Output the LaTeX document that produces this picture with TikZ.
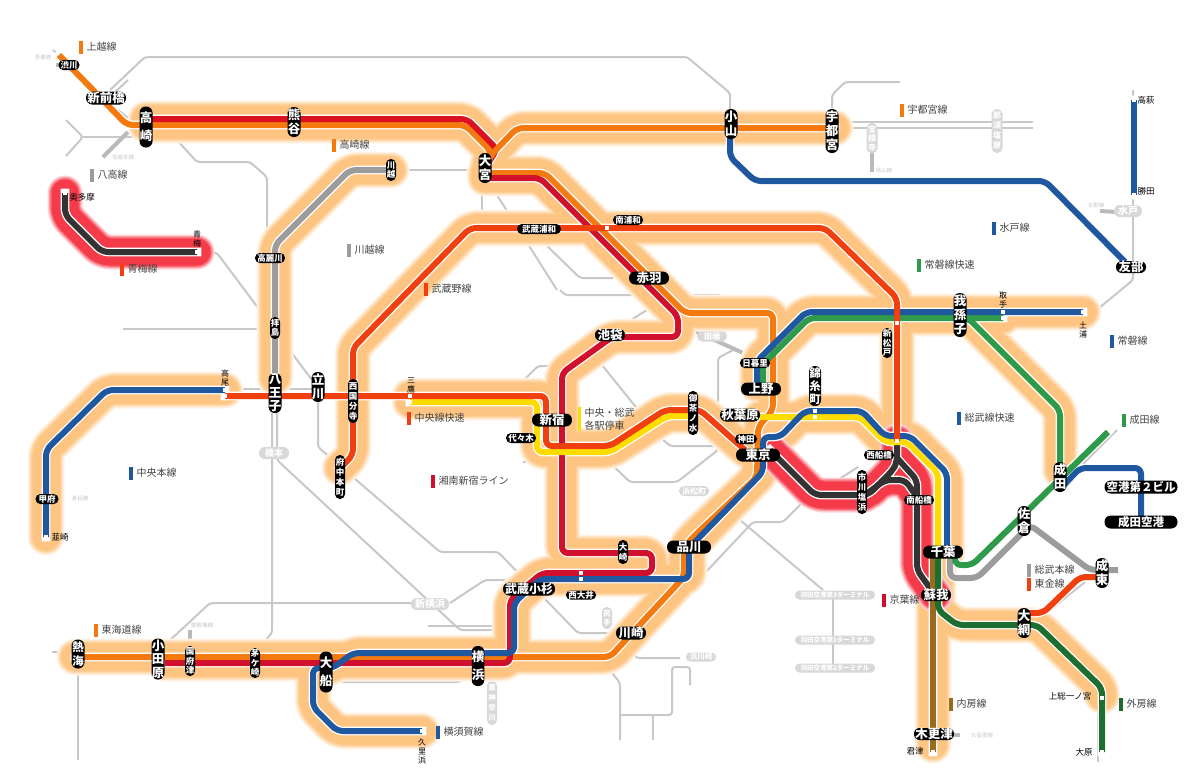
\documentclass[tikz,border=0pt]{standalone}
\usepackage{fontspec}
\setmainfont{Noto Sans CJK JP}
\usetikzlibrary{calc}
\definecolor{cOr}{HTML}{F47A10}
\definecolor{cRd}{HTML}{DC1020}
\definecolor{cCr}{HTML}{D0102C}
\definecolor{cRo}{HTML}{F04010}
\definecolor{cBl}{HTML}{2058A0}
\definecolor{cGn}{HTML}{2E9A4A}
\definecolor{cDg}{HTML}{1E6E32}
\definecolor{cYl}{HTML}{FFDC00}
\definecolor{cGy}{HTML}{9C9C9C}
\definecolor{cBk}{HTML}{333333}
\definecolor{cBr}{HTML}{9A6A20}
\definecolor{cNet}{HTML}{C8C8C8}
\definecolor{cPale}{HTML}{D8D8D8}
\definecolor{cTxt}{HTML}{444444}
\definecolor{hA}{HTML}{FFF4E8}
\definecolor{hB}{HTML}{FEE8CC}
\definecolor{hC}{HTML}{FEDAAE}
\definecolor{hD}{HTML}{FDCE96}
\definecolor{hE}{HTML}{FDC482}
\definecolor{rA}{HTML}{FDD0D4}
\definecolor{rB}{HTML}{FB9CA4}
\definecolor{rC}{HTML}{F86A76}
\definecolor{rD}{HTML}{F53A4A}
\tikzset{
 gl/.style={draw=cNet,line width=2pt,rounded corners=3pt},
 gthick/.style={draw=cGy!70,line width=4pt},
 halo/.style={line cap=round,line join=round,rounded corners=8pt},
 casing/.style={draw=white,line join=round,line cap=rect,rounded corners=6pt,line width=8.6pt},
 rail/.style={line join=round,rounded corners=6pt,line width=6pt},
 pill/.style={fill=black,text=white,inner sep=0pt,align=center},
 palepill/.style={fill=cPale,text=white,inner sep=0pt,align=center},
 dotn/.style={fill=white,minimum size=3.6pt,inner sep=0pt},
 plain/.style={text=black,inner sep=0pt,align=center},
 lgd/.style={text=cTxt,inner sep=0pt,anchor=west,align=left,font=\fontsize{10}{12.5}\selectfont},
 tiny/.style={text=cNet,inner sep=0pt,font=\fontsize{5.5}{6}\selectfont},
}
\newcommand\pill[7]{\node[pill,minimum width=#3pt,minimum height=#4pt,rounded corners={min(#3,#4)*0.48},font=\bfseries\fontsize{#5}{#6}\selectfont] (#1) at (#2) {#7};}
\newcommand\pale[7]{\node[palepill,minimum width=#3pt,minimum height=#4pt,rounded corners={min(#3,#4)*0.48},font=\bfseries\fontsize{#5}{#6}\selectfont] (#1) at (#2) {#7};}
\newcommand\plainst[5]{\node[plain,font=\fontsize{#3}{#4}\selectfont] (#1) at (#2) {#5};}
\newcommand\lgit[4]{\fill[#3] (#2)++(-1.7,-6.5) rectangle ++(3.4,13); \node[lgd] (#1) at ($(#2)+(5.5,0)$) {#4};}
\newcommand\rl[2]{\draw[rail,draw=#1] #2;}
% rail paths
\def\pJoetsu{(59,55)--(127,125)--(146,125)}
\def\pTakO{(146,125)--(465,125)--(491,151)--(487,165)}
\def\pTakR{(146,119)--(467,119)--(497,149)--(487,165)}
\def\pUtsu{(487,165)--(491,155)--(517,128)--(835,128)}
\def\pOrM{(485,173)--(545,173)--(685,313)--(773,313)--(773,410)--(758,427)--(757,477)--(693,537)--(684,548)--(684,577)--(610,657)--(75,657)}
\def\pRdM{(485,178)--(540,178)--(678,316)--(678,337)--(612,337)--(562,373)--(562,553)--(652,553)--(652,573)--(542,573)--(510,600)--(510,663)--(165,663)}
\def\pChuoR{(225,396)--(546,396)--(546,446)--(610,446)--(665,410)--(700,410)--(745,450)}
\def\pChuoH{(410,396)--(546,396)--(546,446)--(610,446)--(665,410)--(700,410)--(745,450)}
\def\pYlA{(410,402)--(537,402)--(537,452)--(610,452)--(667,416)--(693,416)}
\def\pYlB{(760,417)--(860,417)--(885,442)--(907,442)--(938,473)--(938,553)}
\def\pSobu{(422,731)--(337,731)--(313,707)--(313,668)--(333,668)--(353,653)--(514,653)--(514,603)--(540,579)--(689,579)--(689,548)--(763,472)--(763,437)--(780,437)--(805,411)--(862,411)--(885,436)--(910,436)--(947,473)--(947,553)}
\def\pChuoM{(46,537)--(46,450)--(107,390)--(225,390)}
\def\pHachi{(391,170)--(350,170)--(275,245)--(275,378)}
\def\pOme{(65,193)--(65,215)--(102,252)--(197,252)}
\def\pMusa{(340,468)--(353,455)--(353,348)--(470,228)--(825,228)--(897,298)--(897,441)}
\def\pJoB{(1083,312)--(806,312)--(757,361)--(757,385)}
\def\pJoG{(1003,318)--(809,318)--(763,364)--(763,385)}
\def\pNarN{(958,318)--(968,318)--(1060,410)--(1060,470)}
\def\pNarM{(955,553)--(955,565)--(972,565)--(1108,432)}
\def\pSoGy{(950,553)--(950,578)--(977,578)--(1030,525)--(1090,570)--(1118,570)}
\def\pToga{(1024,613)--(1043,613)--(1080,577)--(1100,577)}
\def\pSoto{(938,555)--(938,610)--(957,625)--(1037,625)--(1102,688)--(1102,752)}
\def\pSotoH{(938,555)--(938,610)--(957,625)--(1037,625)--(1102,688)--(1102,696)}
\def\pUchi{(933,555)--(933,752)}
\def\pUchiH{(933,555)--(933,745)}
\def\pKeiA{(770,450)--(815,495)--(868,495)--(893,470)--(897,462)--(897,441)}
\def\pKeiB{(897,458)--(917,480)--(917,570)--(935,595)}
\def\pKeiC{(865,495)--(885,480)--(905,480)--(917,497)}
\def\pMito{(730,125)--(730,157)--(755,181)--(1045,181)--(1125,262)}
\def\pJoN{(1134,100)--(1134,195)}
\def\pAir{(1062,487)--(1080,468)--(1141,468)--(1141,522)}
\def\haloall{\pTakO \pTakR \pUtsu \pOrM \pRdM \pChuoH \pYlA \pYlB \pSobu \pChuoM \pHachi \pMusa \pJoB \pJoG \pNarN \pSotoH \pUchiH}
\def\halored{\pOme \pKeiA \pKeiB \pKeiC}
\def\allrails{\pOme \pKeiA \pKeiB \pKeiC \pHachi \pChuoM \pMito \pJoN \pAir \pSoGy \pNarM \pToga \pUchi \pSoto \pJoetsu \pTakO \pTakR \pUtsu \pNarN \pOrM \pRdM \pYlA \pChuoR \pYlB \pSobu \pJoG \pJoB \pMusa}
\begin{document}
\begin{tikzpicture}[x=1pt,y=-1pt]
\useasboundingbox (0,0) rectangle (1200,782);
\fill[white] (0,0) rectangle (1200,782);
% grey network
\draw[gl] (110,90)--(145,57)--(687,57)--(730,93)--(730,110);
\draw[gl] (832,108)--(832,95)--(845,82)--(900,82);
\draw[gl] (66,120)--(83,137)--(66,156);
\draw[gl] (83,137)--(140,137);
\draw[gl] (128,80)--(112,95);
\draw[gl] (118,110)--(137,125);
\draw[gl] (53,50)--(59,55);
\draw[gthick] (103,157)--(128,132);
\draw[gl] (177,140)--(197,162)--(250,162)--(267,177)--(267,250);
\draw[gl] (210,252)--(217,253)--(312,380);
\draw[gl] (123,329)--(262,329);
\draw[gl] (237,389)--(312,389);
\draw[gl] (272,413)--(272,633)--(263,643);
\draw[gl] (277,413)--(277,460)--(460,630)--(495,630);
\draw[gl] (428,626)--(495,626);
\draw[gl] (318,402)--(318,447)--(440,552)--(498,552)--(530,585);
\draw[gl] (543,597)--(578,633)--(617,633);
\draw[gl] (167,643)--(210,603)--(412,603);
\draw[gl] (450,603)--(485,580)--(510,580);
\draw[gl] (517,387)--(538,366)--(560,366);
\draw[gl] (597,365)--(602,365)--(660,437)--(670,446)--(718,446);
\draw[gl] (560,290)--(565,295)--(640,295);
\draw[gl] (687,295)--(720,295)--(730,303);
\draw[gl] (620,327)--(650,308);
\draw[gl] (482,183)--(482,213);
\draw[gl] (495,192)--(557,290);
\draw[gl] (543,242)--(580,278)--(613,278);
\draw[gl] (407,170)--(468,170);
\draw[gl] (733,350)--(718,358)--(718,450)--(677,482)--(630,482)--(610,463);
\draw[gl] (523,462)--(537,462);
\draw[gthick] (695,331)--(743,353);
\draw[gl] (858,467)--(802,503)--(783,522)--(753,522)--(705,573);
\draw[gl] (740,520)--(823,590);
\draw[gl] (833,593)--(833,668);
\draw[gl] (610,670)--(620,683)--(620,740);
\draw[gl] (620,715)--(672,715)--(672,667)--(690,667)--(690,685);
\draw[gl] (653,715)--(653,740);
\draw[gl] (633,655)--(637,658)--(680,658);
\draw[gl] (333,682)--(460,682)--(468,675);
\draw[gl] (845,122)--(1033,122);
\draw[gl] (845,128)--(1033,128);
\draw[gl] (1133,90)--(1133,280)--(1093,313)--(1085,313);
\draw[gl] (52,652)--(75,652);
\draw[gl] (78,670)--(78,760);
\draw[gl] (1098,700)--(1098,762);
\draw[gl] (1117,430)--(1080,467);
\draw[gl] (1040,618)--(1085,582);
\draw[gthick] (872,150)--(872,172);
\draw[gthick] (1100,211)--(1117,212);
\draw[gthick] (190,630)--(190,645);
\draw[gthick] (56,65)--(62,65);
\draw[gthick] (950,735)--(960,735);
% pale stations
\pale{sHoshaku}{872,138}{11}{30}{8}{9}{宝\\積\\寺}
\pale{sNasu}{997,131}{11}{44}{8}{10}{那\\須\\塩\\原}
\pale{sMito}{1128,211}{28}{12}{10}{11}{水戸}
\pale{sHashi}{274,453}{30}{12}{9}{10}{橋本}
\pale{sTabata}{712,336}{30}{11}{8}{9}{田端}
\pale{sHamamatsu}{694,491}{30}{10}{8}{9}{浜松町}
\pale{sShinyoko}{430,604}{38}{12}{10}{11}{新横浜}
\pale{sHigashi}{492,703}{10}{44}{7.5}{10}{東\\神\\奈\\川}
\pale{sShitte}{607,618}{10}{22}{7.5}{9}{尻\\手}
\pale{sTsurumi}{585,645}{20}{10}{7.5}{9}{鶴見}
\pale{sHamakawa}{701,657}{30}{9}{7.5}{9}{浜川崎}
\pale{sHanedaC}{835,595}{80}{9}{6.5}{8}{羽田空港第3ターミナル}
\pale{sHanedaA}{835,640}{80}{9}{6.5}{8}{羽田空港第1ターミナル}
\pale{sHanedaB}{835,668}{80}{9}{6.5}{8}{羽田空港第2ターミナル}
\node[tiny] (cA) at (43,57) {吾妻線};
\node[tiny] (cB) at (123,157) {信越本線};
\node[tiny] (cC) at (80,498) {身延線};
\node[tiny] (cD) at (884,170) {烏山線};
\node[tiny] (cE) at (1096,205) {水郡線};
\node[tiny] (cF) at (202,625) {御殿場線};
\node[tiny] (cG) at (982,735) {久留里線};
% halos
\foreach \w/\c in {37/hA,34.5/hB,32/hC,29.5/hD,27/hE}{\draw[halo,line width=\w pt,draw=\c] \haloall;}
\foreach \w/\c in {35/rA,32/rB,29.5/rC,27/rD}{\draw[halo,line width=\w pt,draw=\c] \halored;}
% white casing under all rails
\draw[casing] \allrails;
% rails
\rl{cBk}{\pOme}
\rl{cBk}{\pKeiA}
\rl{cBk}{\pKeiB}
\rl{cBk}{\pKeiC}
\rl{cGy}{\pHachi}
\rl{cBl}{\pChuoM}
\rl{cBl}{\pMito}
\rl{cBl}{\pJoN}
\rl{cBl}{\pAir}
\rl{cGy}{\pSoGy}
\rl{cGn}{\pNarM}
\rl{cRo}{\pToga}
\rl{cBr}{\pUchi}
\rl{cDg}{\pSoto}
\rl{cOr}{\pJoetsu}
\rl{cOr}{\pTakO}
\rl{cRd}{\pTakR}
\rl{cOr}{\pUtsu}
\rl{cGn}{\pNarN}
\rl{cOr}{\pOrM}
\rl{cCr}{\pRdM}
\rl{cYl}{\pYlA}
\rl{cRo}{\pChuoR}
\rl{cYl}{\pYlB}
\rl{cBl}{\pSobu}
\rl{cGn}{\pJoG}
\rl{cBl}{\pJoB}
\rl{cRo}{\pMusa}
% station dots
\node[dotn] (dOku) at (65,193) {};
\node[dotn] (dOme) at (197,252) {};
\node[dotn] (dTakB) at (225,390) {};
\node[dotn] (dTakR) at (225,396) {};
\node[dotn] (dNira) at (46,537) {};
\node[dotn] (dMitR) at (410,396) {};
\node[dotn] (dMitY) at (410,402) {};
\node[dotn] (dMinami) at (607,228) {};
\node[dotn] (dShinmat) at (897,323) {};
\node[dotn] (dKinB) at (815,411) {};
\node[dotn] (dKinY) at (815,417) {};
\node[dotn] (dNishi) at (897,441) {};
\node[dotn] (dToriB) at (1003,312) {};
\node[dotn] (dToriG) at (1003,318) {};
\node[dotn] (dTsuchi) at (1083,312) {};
\node[dotn] (dTakah) at (1134,100) {};
\node[dotn] (dKatsu) at (1134,195) {};
\node[dotn] (dNioA) at (581,573) {};
\node[dotn] (dNioB) at (581,579) {};
\node[dotn] (dKuri) at (422,731) {};
\node[dotn] (dKimi) at (933,752) {};
\node[dotn] (dOhara) at (1102,752) {};
\node[dotn] (dKazusa) at (1102,698) {};
% stations
\pill{sShibu}{69,65}{21}{10}{8.5}{9}{渋川}
\pill{sShinmae}{106,98}{40}{13}{12.5}{13}{新前橋}
\pill{sTakasaki}{146,127}{13}{41}{12.5}{18}{高\\崎}
\pill{sKuma}{294,122}{13}{30}{12.5}{14}{熊\\谷}
\pill{sOmiya}{485,168}{13}{30}{12.5}{14}{大\\宮}
\pill{sOyama}{731,124}{13}{30}{12.5}{14}{小\\山}
\pill{sUtsu}{832,131}{13}{44}{12.5}{14}{宇\\都\\宮}
\pill{sKawagoe}{391,170}{10}{22}{8.5}{9.5}{川\\越}
\pill{sKoma}{270,258}{30}{10}{8.5}{9}{高麗川}
\pill{sHaijima}{275,328}{10}{22}{8.5}{9.5}{拝\\島}
\pill{sHachi}{275,393}{13}{40}{12.5}{13.5}{八\\王\\子}
\pill{sTachi}{318,387}{13}{30}{12.5}{14}{立\\川}
\pill{sNishikoku}{353,401}{10}{44}{8.5}{10}{西\\国\\分\\寺}
\pill{sFuchu}{340,477}{10}{44}{8.5}{10}{府\\中\\本\\町}
\pill{sKofu}{47,499}{23}{10}{8.5}{9}{甲府}
\pill{sMusaU}{539,229}{44}{10}{8.5}{9}{武蔵浦和}
\pill{sMinami}{628,220}{30}{10}{8.5}{9}{南浦和}
\pill{sAkabane}{649,278}{40}{13}{12.5}{14}{赤羽}
\pill{sAbiko}{960,315}{13}{44}{12.5}{14}{我\\孫\\子}
\pill{sTomobe}{1131,267}{30}{12}{12.5}{13}{友部}
\pill{sIke}{610,335}{30}{12}{12.5}{13}{池袋}
\pill{sShinjuku}{552,420}{40}{13}{12.5}{14}{新宿}
\pill{sYoyogi}{521,438}{30}{10}{8.5}{9}{代々木}
\pill{sOcha}{693,413}{10}{44}{8.5}{10}{御\\茶\\ノ\\水}
\pill{sNippori}{755,363}{30}{10}{8.5}{9}{日暮里}
\pill{sUeno}{761,389}{40}{13}{12.5}{14}{上野}
\pill{sAkiba}{740,415}{40}{13}{12.5}{13}{秋葉原}
\pill{sKanda}{746,439}{22}{10}{8.5}{9}{神田}
\pill{sTokyo}{758,455}{44}{13}{12.5}{14}{東京}
\pill{sKinshi}{815,386}{12}{40}{11.5}{13}{錦\\糸\\町}
\pill{sShinmat}{887,343}{10}{30}{8.5}{9.5}{新\\松\\戸}
\pill{sNishifuna}{879,455}{30}{10}{8.5}{9}{西船橋}
\pill{sIchi}{862,492}{10}{44}{8.5}{10}{市\\川\\塩\\浜}
\pill{sMinamifuna}{919,500}{30}{10}{8.5}{9}{南船橋}
\pill{sChiba}{943,552}{40}{13}{12.5}{14}{千葉}
\pill{sSoga}{936,595}{30}{12}{12.5}{13}{蘇我}
\pill{sShinagawa}{689,547}{44}{13}{12.5}{14}{品川}
\pill{sOsaki}{623,552}{10}{24}{8.5}{10}{大\\崎}
\pill{sKosugi}{529,589}{52}{13}{12}{13}{武蔵小杉}
\pill{sNishioi}{581,595}{30}{9}{8.5}{9}{西大井}
\pill{sKawasaki}{631,633}{30}{13}{12.5}{13}{川崎}
\pill{sYokohama}{478,666}{12}{40}{12.5}{18}{横\\浜}
\pill{sOfuna}{326,672}{13}{41}{12.5}{18}{大\\船}
\pill{sOdawara}{158,659}{13}{41}{12.5}{13.5}{小\\田\\原}
\pill{sAtami}{78,654}{13}{29}{11.5}{13.5}{熱\\海}
\pill{sKozu}{190,661}{10}{30}{8.5}{9.5}{国\\府\\津}
\pill{sChiga}{255,663}{10}{30}{8.5}{9.5}{茅\\ケ\\崎}
\pill{sNarita}{1060,477}{13}{30}{12.5}{14}{成\\田}
\pill{sSakura}{1024,521}{13}{30}{12.5}{14}{佐\\倉}
\pill{sNaruto}{1102,573}{13}{30}{12.5}{14}{成\\東}
\pill{sOami}{1024,623}{13}{30}{12.5}{14}{大\\網}
\pill{sT2}{1141,487}{73}{13}{11.5}{13}{空港第２ビル}
\pill{sNrt}{1141,522}{73}{13}{11.5}{13}{成田空港}
\pill{sKisara}{934,734}{40}{12}{12.5}{13}{木更津}
% plain labels
\plainst{tOku}{82,197}{8.5}{10}{奥多摩}
\plainst{tOme}{197,239}{8}{9}{青\\梅}
\plainst{tTakao}{225,378}{8}{9}{高\\尾}
\plainst{tNira}{60,537}{8.5}{10}{韮崎}
\plainst{tMitaka}{411,385}{8}{9}{三\\鷹}
\plainst{tToride}{1003,300}{8}{9}{取\\手}
\plainst{tTsuchi}{1083,330}{8}{9}{土\\浦}
\plainst{tTakahagi}{1146,100}{8.5}{10}{高萩}
\plainst{tKatsuta}{1146,191}{8.5}{10}{勝田}
\plainst{tKuri}{422,751}{8}{9}{久\\里\\浜}
\plainst{tKimi}{915,751}{8.5}{10}{君津}
\plainst{tKazusa}{1070,696}{8.5}{10}{上総一ノ宮}
\plainst{tOhara}{1084,752}{8.5}{10}{大原}
% legend
\lgit{lJoetsu}{81,47}{cOr}{上越線}
\lgit{lUtsu}{902,110}{cOr}{宇都宮線}
\lgit{lTaka}{334,145}{cOr}{高崎線}
\lgit{lHachi}{92,175}{cGy}{八高線}
\lgit{lKawa}{349,250}{cGy}{川越線}
\lgit{lOme}{122,269}{cRo}{青梅線}
\lgit{lMusa}{426,289}{cRo}{武蔵野線}
\lgit{lMito}{994,228}{cBl}{水戸線}
\lgit{lJoR}{919,265}{cGn}{常磐線快速}
\lgit{lJo}{1112,341}{cBl}{常磐線}
\lgit{lChuoR}{409,418}{cRo}{中央線快速}
\lgit{lSobuR}{959,418}{cBl}{総武線快速}
\lgit{lNarita}{1124,420}{cGn}{成田線}
\lgit{lChuoM}{131,473}{cBl}{中央本線}
\lgit{lShonan}{433,481}{cCr}{湘南新宿ライン}
\fill[cYl] (577.5,407) rectangle (581,431);
\node[lgd] (lLocal) at (584.5,419) {中央・総武\\各駅停車};
\lgit{lTokai}{96,630}{cOr}{東海道線}
\lgit{lYoko}{438,732}{cBl}{横須賀線}
\lgit{lSobuM}{1029,570}{cGy}{総武本線}
\lgit{lToga}{1029,584}{cRo}{東金線}
\lgit{lKeiyo}{884,600}{cCr}{京葉線}
\lgit{lUchi}{951,704}{cBr}{内房線}
\lgit{lSoto}{1121,704}{cDg}{外房線}
\end{tikzpicture}
\end{document}
